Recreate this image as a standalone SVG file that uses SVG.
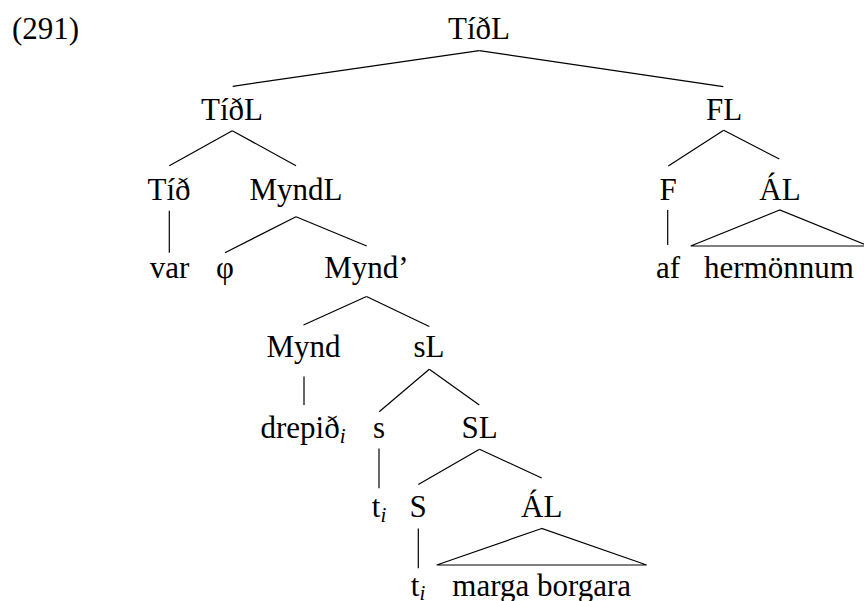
<svg xmlns="http://www.w3.org/2000/svg" width="864" height="601" viewBox="0 0 864 601">
  <style>
    text { font-family: "Liberation Serif", "DejaVu Serif", "Noto Serif", serif; font-size: 31px; fill: #000; }
    .n { text-anchor: middle; }
    .sub { font-style: italic; font-size: 21px; }
    .edge { stroke: #000; stroke-width: 1.2; fill: none; stroke-linecap: butt; }
  </style>
  <rect x="0" y="0" width="864" height="601" fill="#fff"/>

  <text id="ex-number" x="12" y="39">(291)</text>

  <!-- tree connectors -->
  <g id="connectors">
    <line class="edge" x1="479.3" y1="50.7" x2="232.7" y2="86.3"/>
    <line class="edge" x1="479.3" y1="50.7" x2="723.3" y2="86.7"/>
    <line class="edge" x1="232.3" y1="130.7" x2="169.3" y2="165.7"/>
    <line class="edge" x1="232.3" y1="130.7" x2="296" y2="165.7"/>
    <line class="edge" x1="723.7" y1="130.3" x2="668.3" y2="166"/>
    <line class="edge" x1="723.7" y1="130.3" x2="779.3" y2="159"/>
    <line class="edge" x1="169.3" y1="210.7" x2="169.3" y2="252.7"/>
    <line class="edge" x1="296" y1="216.7" x2="225" y2="252.7"/>
    <line class="edge" x1="296" y1="216.7" x2="366.7" y2="246"/>
    <line class="edge" x1="667.7" y1="210" x2="667.7" y2="245"/>
    <polygon class="edge" points="779.7,210 690.7,246 868.7,246"/>
    <line class="edge" x1="366.5" y1="296.5" x2="303.5" y2="325"/>
    <line class="edge" x1="366.5" y1="296.5" x2="429.3" y2="326.5"/>
    <line class="edge" x1="304" y1="376.5" x2="304" y2="405"/>
    <line class="edge" x1="429.3" y1="369.3" x2="379.2" y2="411.7"/>
    <line class="edge" x1="429.3" y1="369.3" x2="479.3" y2="405"/>
    <line class="edge" x1="379" y1="448.5" x2="379" y2="488.3"/>
    <line class="edge" x1="479.5" y1="449.3" x2="418.3" y2="484.5"/>
    <line class="edge" x1="479.5" y1="449.3" x2="541.7" y2="478"/>
    <line class="edge" x1="418.3" y1="528.5" x2="418.3" y2="568.3"/>
    <polygon class="edge" points="541.7,528.5 436.7,565 646.7,565"/>
  </g>

  <!-- tree nodes -->
  <g id="n-tidl-root"><text class="n" x="479" y="39">TíðL</text></g>
  <g id="n-tidl"><text class="n" x="232" y="120">TíðL</text></g>
  <g id="n-fl"><text class="n" x="724" y="120">FL</text></g>
  <g id="n-tid"><text class="n" x="169" y="200">Tíð</text></g>
  <g id="n-myndl"><text class="n" x="296" y="200">MyndL</text></g>
  <g id="n-f"><text class="n" x="668" y="200">F</text></g>
  <g id="n-al-1"><text class="n" x="780" y="200">ÁL</text></g>
  <g id="n-var"><text class="n" x="169.5" y="278">var</text></g>
  <g id="n-phi"><text class="n" x="225" y="278">φ</text></g>
  <g id="n-mynd-bar"><text class="n" x="366.5" y="278">Mynd’</text></g>
  <g id="n-af"><text class="n" x="668" y="278">af</text></g>
  <g id="n-hermonnum"><text class="n" x="779" y="278">hermönnum</text></g>
  <g id="n-mynd"><text class="n" x="303.5" y="357">Mynd</text></g>
  <g id="n-sl-small"><text class="n" x="429" y="357">sL</text></g>
  <g id="n-drepid"><text class="n" x="303" y="438">drepið<tspan class="sub" dy="5">i</tspan></text></g>
  <g id="n-s-small"><text class="n" x="379" y="438">s</text></g>
  <g id="n-sl"><text class="n" x="479.5" y="438">SL</text></g>
  <g id="n-trace-1"><text class="n" x="379" y="517">t<tspan class="sub" dy="5">i</tspan></text></g>
  <g id="n-s"><text class="n" x="418" y="517">S</text></g>
  <g id="n-al-2"><text class="n" x="541.7" y="517">ÁL</text></g>
  <g id="n-trace-2"><text class="n" x="418" y="596">t<tspan class="sub" dy="4">i</tspan></text></g>
  <g id="n-marga-borgara"><text class="n" x="541.7" y="596">marga borgara</text></g>
</svg>
